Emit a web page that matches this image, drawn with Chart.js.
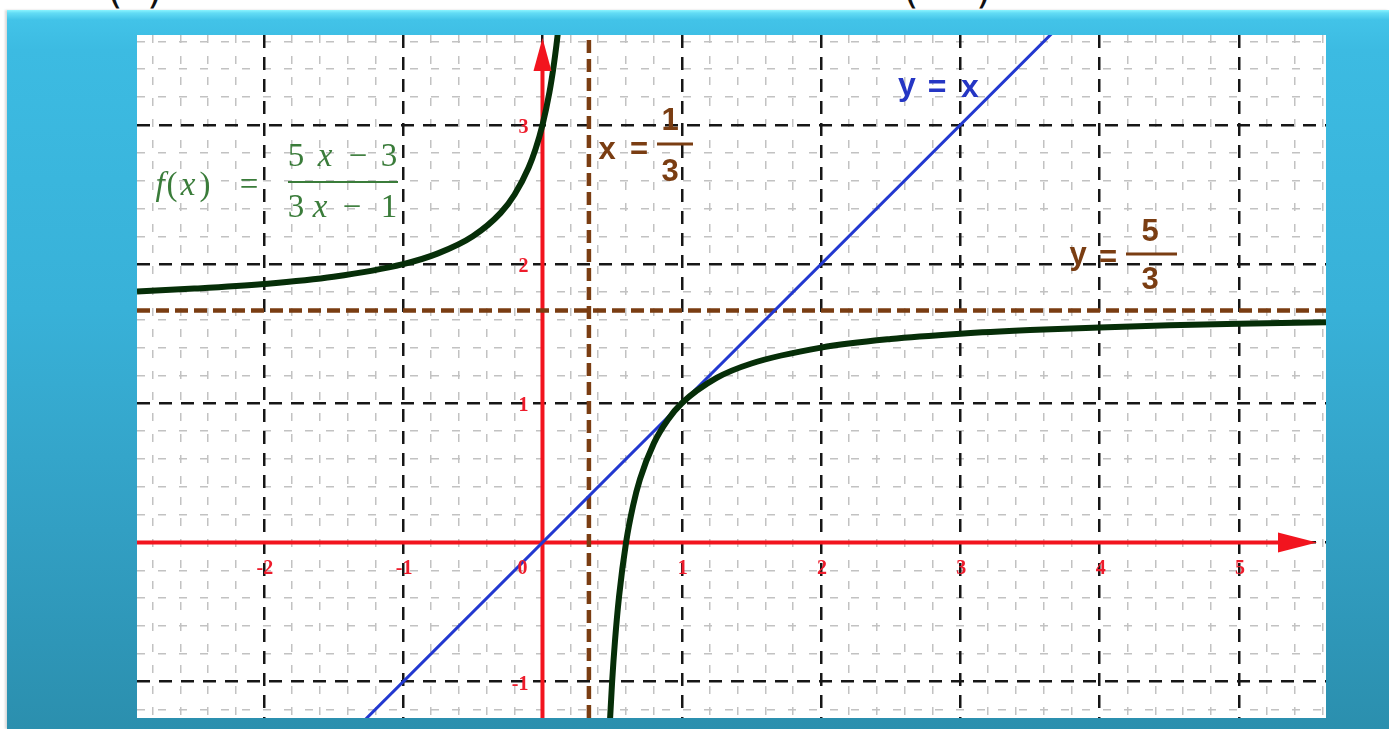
<!DOCTYPE html>
<html><head><meta charset="utf-8">
<script src="https://cdn.jsdelivr.net/npm/chart.js@4.4.1/dist/chart.umd.min.js"></script>
<style>
html,body{margin:0;padding:0;width:1389px;height:729px;overflow:hidden;background:#fff;}
#frame{position:absolute;left:7px;top:10px;width:1382px;height:719px;
 background:linear-gradient(to bottom,#8af4ff 0px,#62dcf5 3px,#42c3e8 10px,#3cbbe2 40px,#38b1d8 300px,#329fc3 520px,#2b8fae 719px);
 box-shadow:-2px 0 2px rgba(0,0,0,0.15);}
#plot{position:absolute;left:137px;top:35px;width:1189px;height:683px;background:#fff;}
.cut{position:absolute;font-family:'DejaVu Sans';font-size:40px;line-height:40px;color:#111;top:-31px;}
</style></head><body>
<div id="frame"></div>
<div class="cut" style="left:107px">(</div>
<div class="cut" style="left:147px">)</div>
<div class="cut" style="left:903px">(</div>
<div class="cut" style="left:976px">)</div>
<div id="plot"><canvas id="c" width="1189" height="683"></canvas></div>
<script>
// ---- axis ranges and tick labels ----
const X_MIN = -2.911, X_MAX = 5.625;
const Y_MIN = -1.261, Y_MAX = 3.646;
const X_TICKS = [-2, -1, 0, 1, 2, 3, 4, 5];
const X_TICK_LABELS = ['-2', '-1', '0', '1', '2', '3', '4', '5'];
const Y_TICKS = [-1, 1, 2, 3];
const Y_TICK_LABELS = ['-1', '1', '2', '3'];
const Y_MAJOR = [-1, 0, 1, 2, 3];

// ---- curve f(x) = (5x-3)/(3x-1) ----
const LEFT_X = [-2.911, -2.5, -2, -1.5, -1, -0.75, -0.5, -0.3, -0.2, -0.1, -0.05, 0, 0.05, 0.08, 0.1, 0.11];
const LEFT_Y = [1.804, 1.824, 1.857, 1.909, 2.0, 2.077, 2.2, 2.368, 2.5, 2.692, 2.826, 3.0, 3.235, 3.421, 3.571, 3.657];
const RIGHT_X = [0.48, 0.5, 0.52, 0.55, 0.6, 0.65, 0.7, 0.8, 0.9, 1, 1.25, 1.5, 2, 2.5, 3, 3.5, 4, 4.5, 5, 5.625];
const RIGHT_Y = [-1.364, -1.0, -0.714, -0.385, 0.0, 0.263, 0.455, 0.714, 0.882, 1.0, 1.182, 1.286, 1.4, 1.462, 1.5, 1.526, 1.545, 1.56, 1.571, 1.583];

// ---- straight lines ----
const DIAG_X = [-1.5, 4];          // y = x
const DIAG_Y = [-1.5, 4];
const ASYM_V = 1 / 3;               // x = 1/3
const ASYM_H = 5 / 3;               // y = 5/3
const X_AXIS_END = 5.309, X_ARROW_TIP = 5.56;
const Y_AXIS_END = 3.416, Y_ARROW_TIP = 3.624;

const pts = (xs, ys) => xs.map((x, i) => ({x, y: ys[i]}));

const AXIS_RED = '#f2141e';
const BROWN = '#7a3d12';
const PAGE_L = 137, PAGE_T = 35;   // canvas offset on the page

function minorTicks(axisMin, axisMax) {
  const out = [];
  for (let k = Math.ceil(axisMin / 0.2 - 1e-9); k <= Math.floor(axisMax / 0.2 + 1e-9); k++) {
    if (k % 5 !== 0) out.push(Math.round(k * 0.2 * 100) / 100);
  }
  return out;
}

function scale(pos, min, max, ticksFn, color, width, dash, z) {
  return {
    type: 'linear', position: pos, min, max, display: true,
    ticks: {display: false},
    grid: {color, lineWidth: width, drawTicks: false, z},
    border: {display: false, dash},
    afterBuildTicks: s => { s.ticks = ticksFn().map(v => ({value: v})); }
  };
}

const overlay = {
  id: 'overlay',
  afterDatasetsDraw(chart) {
    const ctx = chart.ctx;
    const xs = chart.scales.x, ys = chart.scales.y;
    const px = v => xs.getPixelForValue(v), py = v => ys.getPixelForValue(v);
    const P = (x, y) => [x - PAGE_L, y - PAGE_T];
    ctx.save();
    // arrow heads
    ctx.fillStyle = AXIS_RED;
    ctx.beginPath();
    ctx.moveTo(px(X_ARROW_TIP), py(0));
    ctx.lineTo(px(X_AXIS_END) - 4, py(0) - 10);
    ctx.lineTo(px(X_AXIS_END) - 4, py(0) + 10);
    ctx.closePath(); ctx.fill();
    ctx.beginPath();
    ctx.moveTo(px(0), py(Y_ARROW_TIP));
    ctx.lineTo(px(0) - 9, py(Y_AXIS_END) + 4);
    ctx.lineTo(px(0) + 9, py(Y_AXIS_END) + 4);
    ctx.closePath(); ctx.fill();

    // tick labels
    ctx.font = 'bold 20px "Liberation Serif"';
    ctx.fillStyle = '#ee1c2c';
    ctx.textBaseline = 'middle';
    X_TICKS.forEach((v, i) => {
      if (v === 0) { ctx.textAlign = 'right'; ctx.fillText(X_TICK_LABELS[i], px(0) - 15, py(0) + 26); }
      else { ctx.textAlign = 'center'; ctx.fillText(X_TICK_LABELS[i], px(v) + 1, py(0) + 26); }
    });
    ctx.textAlign = 'right';
    Y_TICKS.forEach((v, i) => ctx.fillText(Y_TICK_LABELS[i], px(0) - 14, py(v) + 3));

    // formula f(x) = (5x-3)/(3x-1)
    const G = '#3a7c3a';
    ctx.fillStyle = G; ctx.strokeStyle = G; ctx.textAlign = 'center';
    const put = (t, x, y, font) => { ctx.font = font; const p = P(x, y); ctx.fillText(t, p[0], p[1]); };
    const R = '33px "Liberation Serif"', I = 'italic 33px "Liberation Serif"';
    put('f', 160, 186, I); put('(', 172, 186, R); put('x', 188, 186, I); put(')', 205, 186, R); put('=', 249, 186, R);
    put('5', 296, 157, R); put('x', 325, 157, I); put('\u2212', 358, 157, R); put('3', 389, 157, R);
    put('3', 296, 208, R); put('x', 320, 208, I); put('\u2212', 352, 208, R); put('1', 389, 208, R);
    ctx.lineWidth = 2;
    let a = P(288, 182), b = P(398, 182);
    ctx.beginPath(); ctx.moveTo(a[0], a[1]); ctx.lineTo(b[0], b[1]); ctx.stroke();

    // x = 1/3
    ctx.fillStyle = BROWN; ctx.strokeStyle = BROWN;
    const B = 'bold 31px "Liberation Sans"';
    put('x', 607, 150, B); put('=', 639, 150, B);
    put('1', 670, 121, B); put('3', 670, 172, B);
    ctx.lineWidth = 3;
    a = P(657, 144); b = P(693, 144);
    ctx.beginPath(); ctx.moveTo(a[0], a[1]); ctx.lineTo(b[0], b[1]); ctx.stroke();

    // y = 5/3
    put('y', 1078, 255, B); put('=', 1108, 258, B);
    put('5', 1150, 232, B); put('3', 1150, 280, B);
    a = P(1126, 254); b = P(1177, 254);
    ctx.beginPath(); ctx.moveTo(a[0], a[1]); ctx.lineTo(b[0], b[1]); ctx.stroke();

    // y = x
    ctx.fillStyle = '#2536c4';
    const BB = 'bold 32px "Liberation Sans"';
    put('y', 907, 86, BB); put('=', 937, 88, BB); put('x', 970, 88, BB);
    ctx.restore();
  }
};

new Chart(document.getElementById('c'), {
  type: 'line',
  data: {
    datasets: [
      {label: 'f left', data: pts(LEFT_X, LEFT_Y), borderColor: '#062e08', borderWidth: 6, pointRadius: 0, cubicInterpolationMode: 'monotone', order: 0},
      {label: 'f right', data: pts(RIGHT_X, RIGHT_Y), borderColor: '#062e08', borderWidth: 6, pointRadius: 0, cubicInterpolationMode: 'monotone', order: 0},
      {label: 'y = x', data: pts(DIAG_X, DIAG_Y), borderColor: '#2238d0', borderWidth: 3, pointRadius: 0, order: 1},
      {label: 'x axis', data: [{x: X_MIN, y: 0}, {x: X_AXIS_END, y: 0}], borderColor: AXIS_RED, borderWidth: 4, pointRadius: 0, order: 3},
      {label: 'y axis', data: [{x: 0, y: Y_MIN}, {x: 0, y: Y_AXIS_END}], borderColor: AXIS_RED, borderWidth: 4, pointRadius: 0, order: 3},
      {label: 'x = 1/3', data: [{x: ASYM_V, y: Y_MIN}, {x: ASYM_V, y: Y_MAX}], borderColor: BROWN, borderWidth: 4.5, borderDash: [13, 6], pointRadius: 0, order: 2},
      {label: 'y = 5/3', data: [{x: X_MIN, y: ASYM_H}, {x: X_MAX, y: ASYM_H}], borderColor: BROWN, borderWidth: 4.5, borderDash: [13, 6], pointRadius: 0, order: 2}
    ]
  },
  options: {
    responsive: false, animation: false, devicePixelRatio: 1,
    layout: {padding: 0},
    plugins: {legend: {display: false}, tooltip: {enabled: false}},
    events: [],
    scales: {
      xm: scale('bottom', X_MIN, X_MAX, () => minorTicks(X_MIN, X_MAX), '#c2c2c2', 1.5, [8, 13], -2),
      ym: scale('left', Y_MIN, Y_MAX, () => minorTicks(Y_MIN, Y_MAX), '#c2c2c2', 1.5, [8, 13], -2),
      x: scale('bottom', X_MIN, X_MAX, () => X_TICKS, '#161616', 2.5, [13, 9], -1),
      y: scale('left', Y_MIN, Y_MAX, () => Y_MAJOR, '#161616', 2.5, [13, 9], -1)
    }
  },
  plugins: [overlay]
});
</script>
</body></html>
